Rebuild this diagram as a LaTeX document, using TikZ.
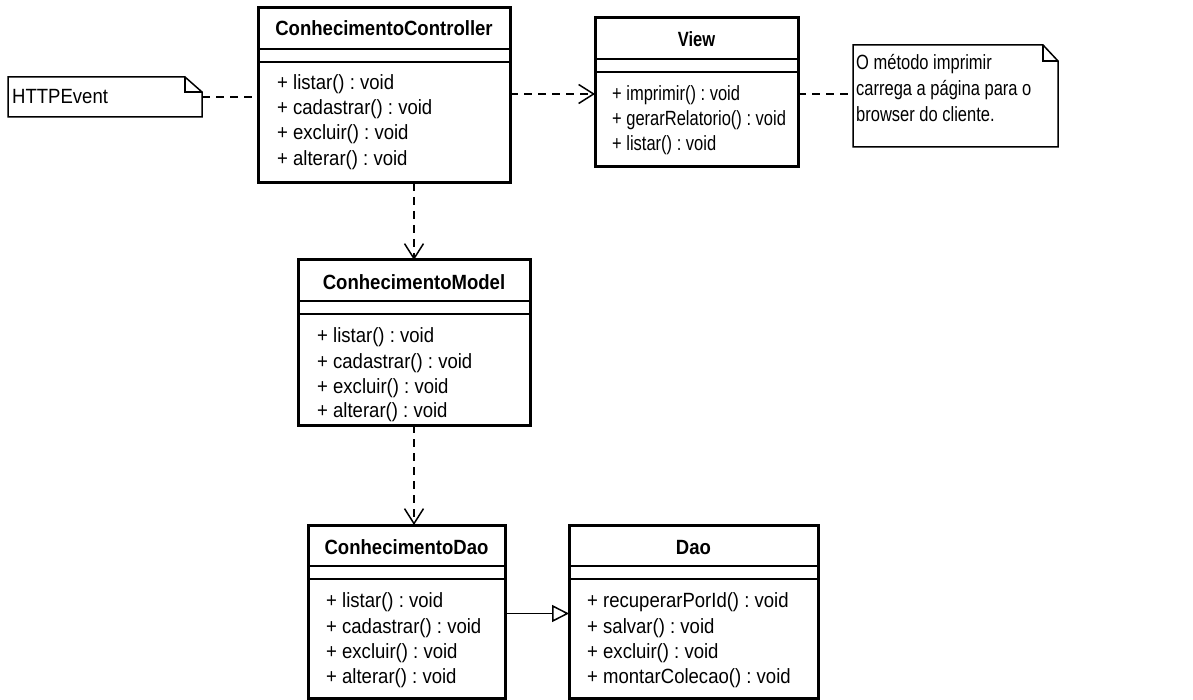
\documentclass[tikz,border=0pt]{standalone}
\usepackage{fontspec}
\setmainfont[FakeStretch=0.9]{Liberation Sans}
\usetikzlibrary{arrows.meta,calc}
\frenchspacing
\begin{document}
\begin{tikzpicture}[x=1pt,y=-1pt,
  cls/.style={draw, line width=3pt, fill=white, inner sep=0pt, outer sep=0pt},
  sepline/.style={line width=1.5pt},
  clstitle/.style={font=\fontsize{20.6}{24}\selectfont\bfseries, inner sep=0pt, anchor=base},
  clsmeth/.style={font=\fontsize{20.6}{24}\selectfont, inner sep=0pt, anchor=base west},
  narrow/.style={transform shape, xscale=0.89},
  notebox/.style={inner sep=0pt, outer sep=0pt},
  noteline/.style={line width=1.5pt, line join=miter},
  conn/.style={line width=1.5pt, dash pattern=on 8pt off 6pt},
  dep/.style={conn, -{Straight Barb[length=15pt,width=19pt,line width=1.5pt]}},
  gen/.style={line width=1.5pt, -{Triangle[open, length=17pt, width=17pt, fill=white, line width=1.5pt]}},
]
\useasboundingbox[fill=white] (0,0) rectangle (1193,700);

% class boxes
\node[cls, minimum width=252pt, minimum height=175pt] (ctrl) at (384,95.5) {};
\node[cls, minimum width=203pt, minimum height=149pt] (view) at (696.5,92.5) {};
\node[cls, minimum width=232pt, minimum height=165pt] (model) at (414,342.5) {};
\node[cls, minimum width=197pt, minimum height=173pt] (dao1) at (406.5,611.5) {};
\node[cls, minimum width=249pt, minimum height=173pt] (dao) at (693.5,611.5) {};

\foreach \c in {ctrl,view,model,dao1,dao}{
  \draw[sepline] ($(\c.north west)+(0,41)$) -- ($(\c.north east)+(0,41)$);
  \draw[sepline] ($(\c.north west)+(0,54)$) -- ($(\c.north east)+(0,54)$);
}

% titles
\node[clstitle] (ctrl-t) at ($(ctrl.north)+(0,28)$) {ConhecimentoController};
\node[clstitle, narrow] (view-t) at ($(view.north)+(0,29)$) {View};
\node[clstitle] (model-t) at ($(model.north)+(0,30)$) {ConhecimentoModel};
\node[clstitle] (dao1-t) at ($(dao1.north)+(0,29)$) {ConhecimentoDao};
\node[clstitle] (dao-t) at ($(dao.north)+(0,29)$) {Dao};

% methods
\node[clsmeth] (ctrl-m1) at ($(ctrl.north west)+(19,82)$) {+ listar() : void};
\node[clsmeth] (ctrl-m2) at ($(ctrl.north west)+(19,107)$) {+ cadastrar() : void};
\node[clsmeth] (ctrl-m3) at ($(ctrl.north west)+(19,132)$) {+ excluir() : void};
\node[clsmeth] (ctrl-m4) at ($(ctrl.north west)+(19,158)$) {+ alterar() : void};

\node[clsmeth, narrow] (view-m1) at ($(view.north west)+(17,83)$) {+ imprimir() : void};
\node[clsmeth, narrow] (view-m2) at ($(view.north west)+(17,108)$) {+ gerarRelatorio() : void};
\node[clsmeth, narrow] (view-m3) at ($(view.north west)+(17,133)$) {+ listar() : void};

\node[clsmeth] (model-m1) at ($(model.north west)+(19,82)$) {+ listar() : void};
\node[clsmeth] (model-m2) at ($(model.north west)+(19,108)$) {+ cadastrar() : void};
\node[clsmeth] (model-m3) at ($(model.north west)+(19,133)$) {+ excluir() : void};
\node[clsmeth] (model-m4) at ($(model.north west)+(19,157)$) {+ alterar() : void};

\node[clsmeth] (dao1-m1) at ($(dao1.north west)+(18,82)$) {+ listar() : void};
\node[clsmeth] (dao1-m2) at ($(dao1.north west)+(18,108)$) {+ cadastrar() : void};
\node[clsmeth] (dao1-m3) at ($(dao1.north west)+(18,133)$) {+ excluir() : void};
\node[clsmeth] (dao1-m4) at ($(dao1.north west)+(18,158)$) {+ alterar() : void};

\node[clsmeth] (dao-m1) at ($(dao.north west)+(18,82)$) {+ recuperarPorId() : void};
\node[clsmeth] (dao-m2) at ($(dao.north west)+(18,108)$) {+ salvar() : void};
\node[clsmeth] (dao-m3) at ($(dao.north west)+(18,133)$) {+ excluir() : void};
\node[clsmeth] (dao-m4) at ($(dao.north west)+(18,158)$) {+ montarColecao() : void};

% notes
\node[notebox, minimum width=194pt, minimum height=40pt] (note1) at (105,97) {};
\draw[noteline] (note1.north west) -- ($(note1.north east)+(-17,0)$) -- ($(note1.north east)+(0,15)$)
   -- (note1.south east) -- (note1.south west) -- cycle;
\draw[noteline] ($(note1.north east)+(-17,0)$) -- ($(note1.north east)+(-17,15)$) -- ($(note1.north east)+(0,15)$);
\node[clsmeth] (note1-t) at ($(note1.west)+(4,7)$) {HTTPEvent};

\node[notebox, minimum width=205pt, minimum height=102pt] (note2) at (955.5,96) {};
\draw[noteline] (note2.north west) -- ($(note2.north east)+(-15,0)$) -- ($(note2.north east)+(0,16)$)
   -- (note2.south east) -- (note2.south west) -- cycle;
\draw[noteline] ($(note2.north east)+(-15,0)$) -- ($(note2.north east)+(-15,16)$) -- ($(note2.north east)+(0,16)$);
\node[clsmeth, narrow] (note2-l1) at ($(note2.north west)+(3,25)$) {O método imprimir};
\node[clsmeth, narrow] (note2-l2) at ($(note2.north west)+(3,51)$) {carrega a página para o};
\node[clsmeth, narrow] (note2-l3) at ($(note2.north west)+(3,77)$) {browser do cliente.};

% connectors
\draw[conn] (note1.east) -- (note1.east -| ctrl.west);
\draw[dep] ($(ctrl.east |- view.west)+(0,1.5)$) -- ($(view.west)+(0,1.5)$);
\draw[conn] ($(view.east)+(0,1.5)$) -- ($(view.east -| note2.west)+(0,1.5)$);
\draw[dep] (ctrl.south -| model.north) -- (model.north);
\draw[dep] (model.south) -- (model.south |- dao1.north);
\draw[gen] ($(dao1.east)+(0,2)$) -- ($(dao.west)+(0,2)$);
\end{tikzpicture}
\end{document}
